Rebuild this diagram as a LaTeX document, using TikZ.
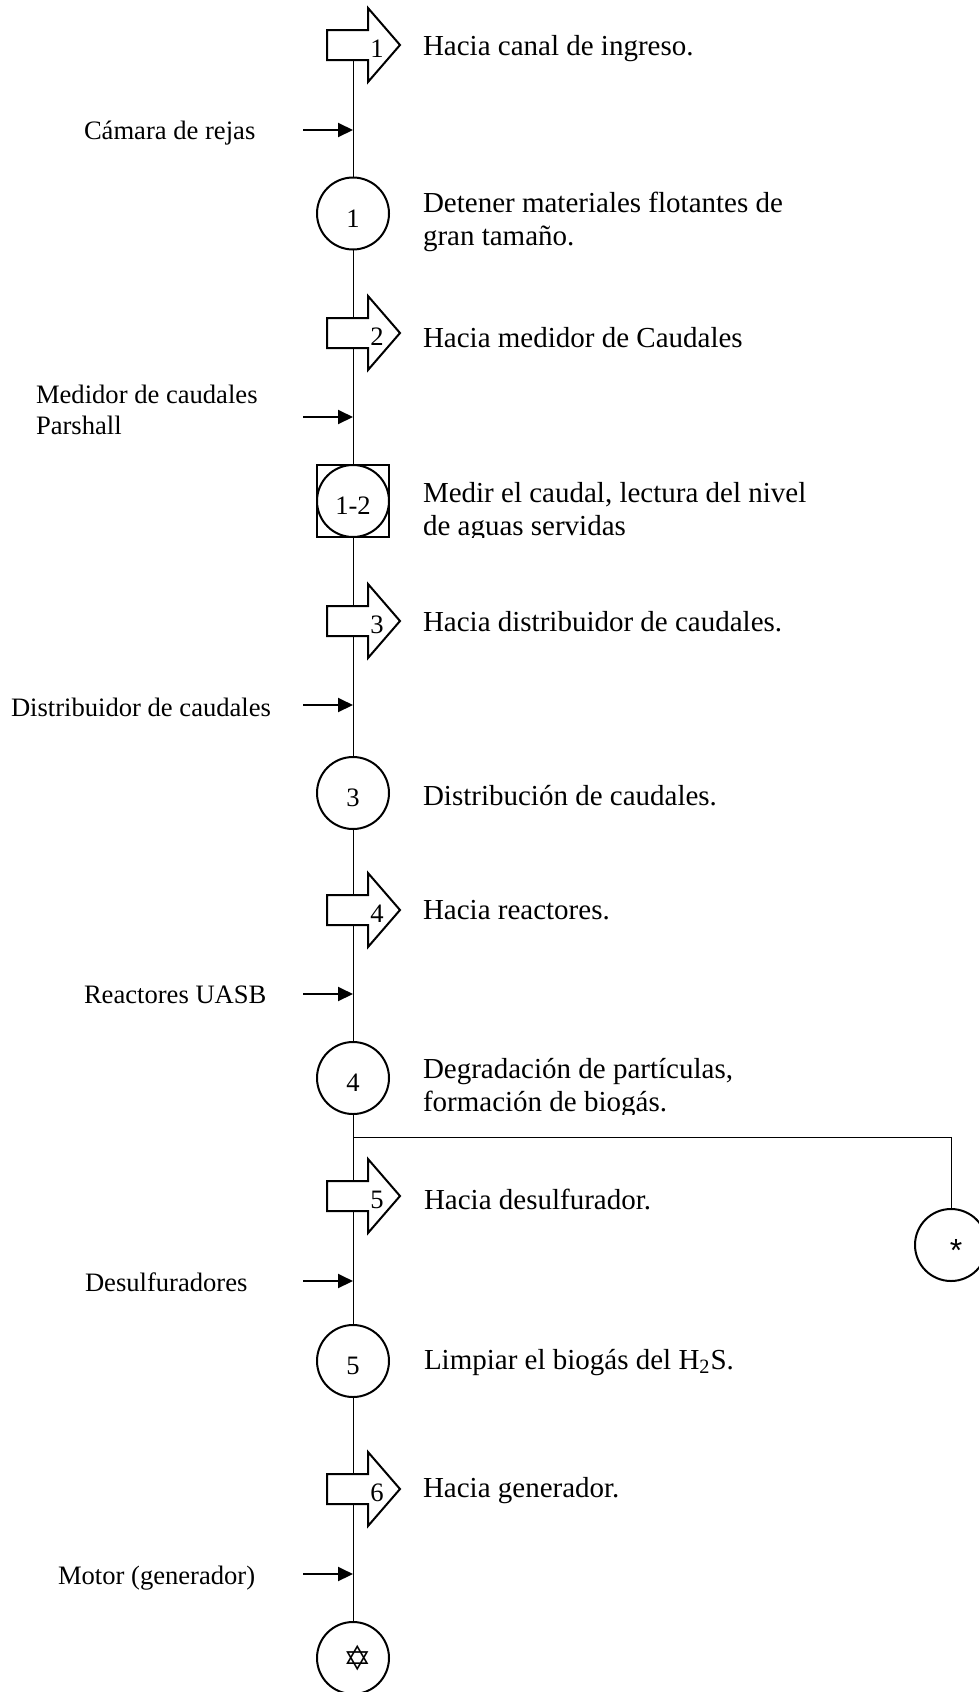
\documentclass[tikz,border=0pt]{standalone}
\usepackage{fontspec}
\setmainfont{Liberation Serif}
\newfontfamily\symbolfont{DejaVu Sans}
\newfontfamily\plainsans{Liberation Sans}
\usetikzlibrary{arrows.meta,backgrounds}
\def\feedarrow(#1)(#2)#3{%
	\begin{scope}[shift={(#2)}]
		\draw[arrowbody] (-2.6,-1.5) -- (1.5,-1.5) -- (1.5,-3.7) -- (4.7,0) -- (1.5,3.7) -- (1.5,1.5) -- (-2.6,1.5) -- cycle;
		\node[num] (#1) at (2.4,0.4) {#3};
	\end{scope}}

\begin{document}
\begin{tikzpicture}[x=5pt, y=-5pt, line width=1pt,
		every node/.style={font=\fontsize{13.3}{15.5}\selectfont},
		arrowbody/.style={draw=black, fill=white},
		num/.style={inner sep=0pt},
		stage/.style={circle, draw, fill=white, minimum size=36pt, inner sep=0pt},
		stagenum/.style={stage, text height=13.5pt, text depth=0pt},
		stagebox/.style={rectangle, draw, fill=white, minimum size=36pt, inner sep=0pt},
		txt/.style={anchor=base west, inner sep=0pt, align=left},
		desc/.style={txt, font=\fontsize{14.5}{16.5}\selectfont},
		feed/.style={-{Triangle[length=7.5pt, width=7pt]}}]
		%%%%% START %%%%%
		
		\useasboundingbox (0,0) rectangle (97.9,169.2);
		\coordinate (top) at (35.3,4.5);
		
		\feedarrow(a1)(35.3,4.5){1}
		\node[desc] (t1) at (42.2,5.5) {Hacia canal de ingreso.};
		
		\node[txt] (rejas) at (8.3,13.9) {Cámara de rejas};
		\coordinate (s1) at (30.3,13.0);
		\draw[feed] (s1) -- (s1 -| top);
		
		\node[stagenum] (c1) at (35.3,21.35) {1};
		\node[desc] (d1) at (42.2,24.55) {Detener materiales flotantes de\\gran tamaño.};
		
		\feedarrow(a2)(35.3,33.3){2}
		\node[desc] (t2) at (42.2,34.7) {Hacia medidor de Caudales};
		
		\node[txt] (parshall) at (3.5,43.4) {Medidor de caudales\\Parshall};
		\coordinate (s2) at (30.3,41.7);
		\draw[feed] (s2) -- (s2 -| top);
		
		\node[stagebox] (c12box) at (35.3,50.1) {};
		\node[stagenum] (c12) at (c12box) {1-2};
		\begin{scope}
			\clip (40,45) rectangle (90,53.7);
			\node[desc] (d12) at (42.2,53.5) {Medir el caudal, lectura del nivel\\de aguas servidas};
		\end{scope}
		
		\feedarrow(a3)(35.3,62.1){3}
		\node[desc] (t3) at (42.2,63.1) {Hacia distribuidor de caudales.};
		
		\node[txt] (distrib) at (1.0,71.6) {Distribuidor de caudales};
		\coordinate (s3) at (30.3,70.5);
		\draw[feed] (s3) -- (s3 -| top);
		
		\node[stagenum] (c3) at (35.3,79.3) {3};
		\node[desc] (d3) at (42.2,80.5) {Distribución de caudales.};
		
		\feedarrow(a4)(35.3,91.0){4}
		\node[desc] (t4) at (42.2,91.9) {Hacia reactores.};
		
		\node[txt] (uasb) at (8.3,100.3) {Reactores UASB};
		\coordinate (s4) at (30.3,99.4);
		\draw[feed] (s4) -- (s4 -| top);
		
		\node[stagenum] (c4) at (35.3,107.8) {4};
		\begin{scope}
			\clip (40,102) rectangle (90,111.4);
			\node[desc] (d4) at (42.2,111.1) {Degradación de partículas,\\formación de biogás.};
		\end{scope}
		
		% biogas branch
		\coordinate (branch) at (35.3,113.7);
		\node[stage, text height=16.5pt, text depth=0pt] (gas) at (95.1,124.5) {\hspace*{5pt}{\plainsans\fontsize{16}{16}\selectfont *}};
		
		\feedarrow(a5)(35.3,119.6){5}
		\node[desc] (t5) at (42.3,120.9) {Hacia desulfurador.};
		
		\node[txt] (desulf) at (8.4,129.1) {Desulfuradores};
		\coordinate (s5) at (30.3,128.1);
		\draw[feed] (s5) -- (s5 -| top);
		
		\node[stagenum] (c5) at (35.3,136.1) {5};
		\node[desc] (d5) at (42.3,136.9) {Limpiar el biogás del H\textsubscript{2}S.};
		
		\feedarrow(a6)(35.3,148.9){6}
		\node[desc] (t6) at (42.2,149.7) {Hacia generador.};
		
		\node[txt] (motor) at (5.7,158.4) {Motor (generador)};
		\coordinate (s6) at (30.3,157.4);
		\draw[feed] (s6) -- (s6 -| top);
		
		\node[stage] (star) at (35.3,165.8) {\hspace*{5pt}{\symbolfont\fontsize{17}{17}\selectfont ✡}};
		
		\begin{scope}[on background layer]
			\draw (top) -- (star);
			\draw (branch) -| (gas);
		\end{scope}
		
		%%%%% END %%%%%
\end{tikzpicture}
\end{document}
